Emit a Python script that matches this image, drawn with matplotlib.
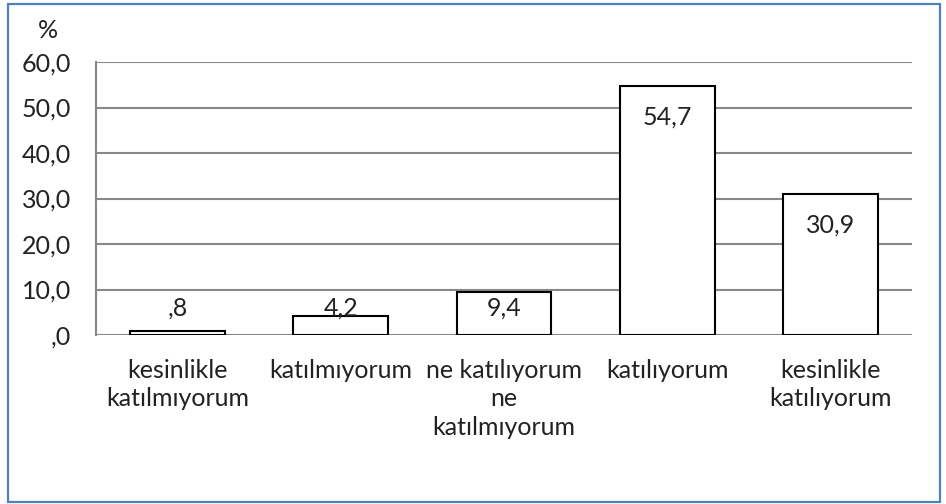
import matplotlib.pyplot as plt
from matplotlib.patches import Rectangle

# data
categories = ["kesinlikle\nkatılmıyorum", "katılmıyorum", "ne katılıyorum\nne\nkatılmıyorum",
              "katılıyorum", "kesinlikle\nkatılıyorum"]
values = [0.8, 4.2, 9.4, 54.7, 30.9]
labels = [",8", "4,2", "9,4", "54,7", "30,9"]
yticks = [0, 10, 20, 30, 40, 50, 60]
ytick_labels = [",0", "10,0", "20,0", "30,0", "40,0", "50,0", "60,0"]

plt.rcParams['font.family'] = ['Lato', 'DejaVu Sans']
txt = '#222222'
fs = 18

fig = plt.figure(figsize=(9.46, 5.04), dpi=100)
ax = fig.add_axes([96 / 946, 1 - 335 / 504, 816 / 946, 273 / 504])

x = range(len(values))
ax.bar(x, values, width=0.58, color='white', edgecolor='black', linewidth=1.5, zorder=3)

for i, v in enumerate(values):
    if v > 14:
        ax.annotate(labels[i], (i, v), xytext=(0, -22), textcoords='offset points',
                    ha='center', va='center', fontsize=fs, color=txt, zorder=4)
    else:
        ax.text(i, 5.9, labels[i], ha='center', va='center', fontsize=fs, color=txt, zorder=4)

ax.set_xlim(-0.5, len(values) - 0.5)
ax.set_ylim(0, 60)
ax.set_yticks(yticks)
ax.set_yticklabels(ytick_labels, fontsize=fs, color=txt)
ax.set_xticks(list(x))
ax.set_xticklabels(categories, fontsize=fs, color=txt, linespacing=1.3, va='top')
ax.tick_params(axis='both', length=0)
ax.tick_params(axis='y', pad=18)
ax.tick_params(axis='x', pad=17)

ax.grid(axis='y', color='#888888', linewidth=1.5, zorder=0)
for s in ['top', 'right', 'bottom']:
    ax.spines[s].set_visible(False)
ax.spines['left'].set_color('#888888')
ax.spines['left'].set_linewidth(1.5)

fig.text(48 / 946, 1 - 30 / 504, "%", fontsize=fs, color=txt, ha='center', va='center')

fig.patches.append(Rectangle((8 / 946, 2 / 504), 932 / 946, 498 / 504, transform=fig.transFigure,
                             fill=False, edgecolor='#4F81BD', linewidth=1.6))

fig.savefig('out.png', dpi=100)
